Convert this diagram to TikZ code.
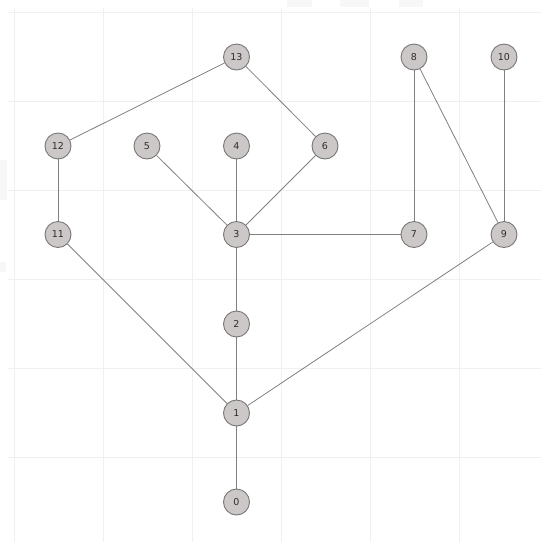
\documentclass[tikz,border=0pt]{standalone}
\usepackage{fontspec}
\setmainfont{DejaVu Sans}
\definecolor{nodefill}{RGB}{204,200,200}
\definecolor{nodeline}{RGB}{120,118,118}
\definecolor{edgecol}{RGB}{128,128,128}
\begin{document}
\begin{tikzpicture}[x=1pt,y=-1pt,
  vtx/.style={circle,draw=nodeline,fill=nodefill,line width=0.9pt,minimum size=26pt,inner sep=0pt,font=\fontsize{9.5}{9.5}\selectfont,text=black!82},
  edge/.style={draw=edgecol,line width=0.8pt},
  gridline/.style={draw=black!6,line width=0.8pt},
  ghost/.style={fill=black!3,draw=none}]
\useasboundingbox (0,0) rectangle (541,542);
% faint background grid
\foreach \gx in {14,103,192,281,370,459} \draw[gridline] (\gx,8) -- (\gx,542);
\foreach \gy in {12,101,190,279,368,457} \draw[gridline] (8,\gy) -- (541,\gy);
% faint artefacts
\fill[ghost] (287,0) rectangle (312,7);
\fill[ghost] (340,0) rectangle (369,7);
\fill[ghost] (399,0) rectangle (423,7);
\fill[ghost] (0,160) rectangle (7,200);
\fill[ghost] (0,262) rectangle (6,272);
% vertices
\node[vtx] (n13) at (236.5,57) {13};
\node[vtx] (n8)  at (414,57) {8};
\node[vtx] (n10) at (504,57) {10};
\node[vtx] (n12) at (58,146) {12};
\node[vtx] (n5)  at (147,146) {5};
\node[vtx] (n4)  at (236.5,146) {4};
\node[vtx] (n6)  at (325,146) {6};
\node[vtx] (n11) at (58,234.5) {11};
\node[vtx] (n3)  at (236.5,234.5) {3};
\node[vtx] (n7)  at (414,234.5) {7};
\node[vtx] (n9)  at (504,234.5) {9};
\node[vtx] (n2)  at (236.5,324) {2};
\node[vtx] (n1)  at (236.5,413) {1};
\node[vtx] (n0)  at (236.5,502) {0};
% edges
\draw[edge] (n13) -- (n12);
\draw[edge] (n13) -- (n6);
\draw[edge] (n8) -- (n7);
\draw[edge] (n8) -- (n9);
\draw[edge] (n10) -- (n9);
\draw[edge] (n12) -- (n11);
\draw[edge] (n5) -- (n3);
\draw[edge] (n4) -- (n3);
\draw[edge] (n6) -- (n3);
\draw[edge] (n3) -- (n7);
\draw[edge] (n3) -- (n2);
\draw[edge] (n2) -- (n1);
\draw[edge] (n11) -- (n1);
\draw[edge] (n9) -- (n1);
\draw[edge] (n1) -- (n0);
\end{tikzpicture}
\end{document}
